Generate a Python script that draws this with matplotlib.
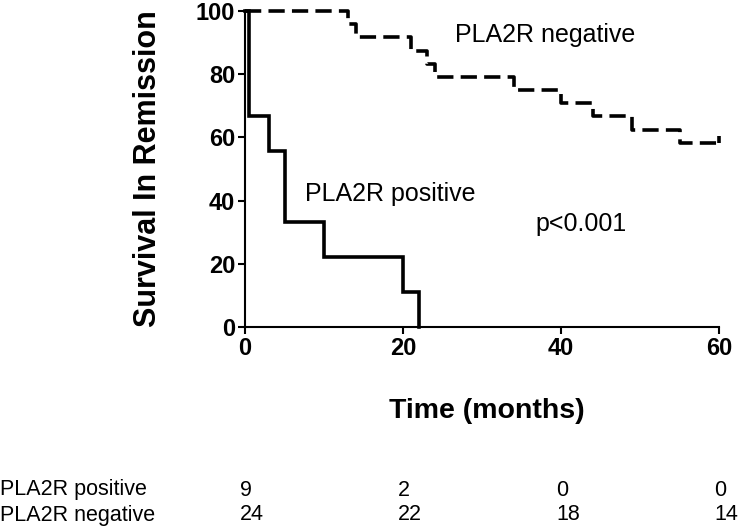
import matplotlib
matplotlib.use("Agg")
import matplotlib.pyplot as plt
import matplotlib.transforms as mtransforms

plt.rcParams['font.family'] = ['Liberation Sans', 'DejaVu Sans']

# Data
pos_times = [0, 0.5, 3, 5, 10, 20, 22]
pos_surv = [100, 66.7, 55.6, 33.3, 22.2, 11.1, 0]
neg_times = [0, 13, 14, 21, 23, 24, 34, 40, 44, 49, 55, 60]
neg_surv = [100, 95.8, 91.7, 87.5, 83.3, 79.2, 75.0, 70.8, 66.7, 62.5, 58.3, 58.3]
neg_censor_t = [60]
neg_censor_s = [58.3]

x_ticks = [0, 20, 40, 60]
y_ticks = [0, 20, 40, 60, 80, 100]
risk_labels = ["PLA2R positive", "PLA2R negative"]
risk_pos = [9, 2, 0, 0]
risk_neg = [24, 22, 18, 14]

fig = plt.figure(figsize=(7.39, 5.29), dpi=100)
ax = fig.add_axes([245/739, 202/529, (719-245)/739, (327-11)/529])

ax.step(pos_times, pos_surv, where='post', color='black', lw=2.6, solid_joinstyle='miter', clip_on=False)
ax.step(neg_times, neg_surv, where='post', color='black', lw=2.6,
        linestyle=(0, (4.5, 2.0)), clip_on=False)
ax.plot(neg_censor_t, neg_censor_s, linestyle='none', marker=2, markersize=5,
        markeredgewidth=2.6, color='black', clip_on=False)

ax.set_xlim(0, 60)
ax.set_ylim(0, 100)
ax.set_xticks(x_ticks)
ax.set_yticks(y_ticks)
for s in ['top', 'right']:
    ax.spines[s].set_visible(False)
for s in ['left', 'bottom']:
    ax.spines[s].set_linewidth(1.5)
ax.tick_params(direction='out', length=5, width=1.5, labelsize=17, pad=2)
for lab in ax.get_xticklabels() + ax.get_yticklabels():
    lab.set_fontweight('bold')

ax.set_ylabel("Survival In Remission", fontsize=22, fontweight='bold', labelpad=24)
fig.text(487/739, 1 - 411/529, "Time (months)", fontsize=20.5, fontweight='bold',
         ha='center', va='center')

ax.text(455/739, 1 - 35/529, "PLA2R negative", transform=fig.transFigure, fontsize=18,
        ha='left', va='center')
ax.text(305/739, 1 - 194/529, "PLA2R positive", transform=fig.transFigure, fontsize=18,
        ha='left', va='center')
ax.text(535/739, 1 - 224/529, "p<0.001", transform=fig.transFigure, fontsize=18,
        ha='left', va='center')

# Number at risk table
trans = mtransforms.blended_transform_factory(ax.transData, fig.transFigure)
rows_y = [1 - 490/529, 1 - 515/529]
for lab, y in zip(risk_labels, rows_y):
    fig.text(0.0, y, lab, fontsize=15.5, ha='left', va='center')
for vals, y in zip([risk_pos, risk_neg], rows_y):
    for xt, v in zip(x_ticks, vals):
        ax.text(xt - 0.6, y, str(v), transform=trans, fontsize=15.5, ha='left', va='center',
                clip_on=False)

fig.savefig("out.png", dpi=100)
